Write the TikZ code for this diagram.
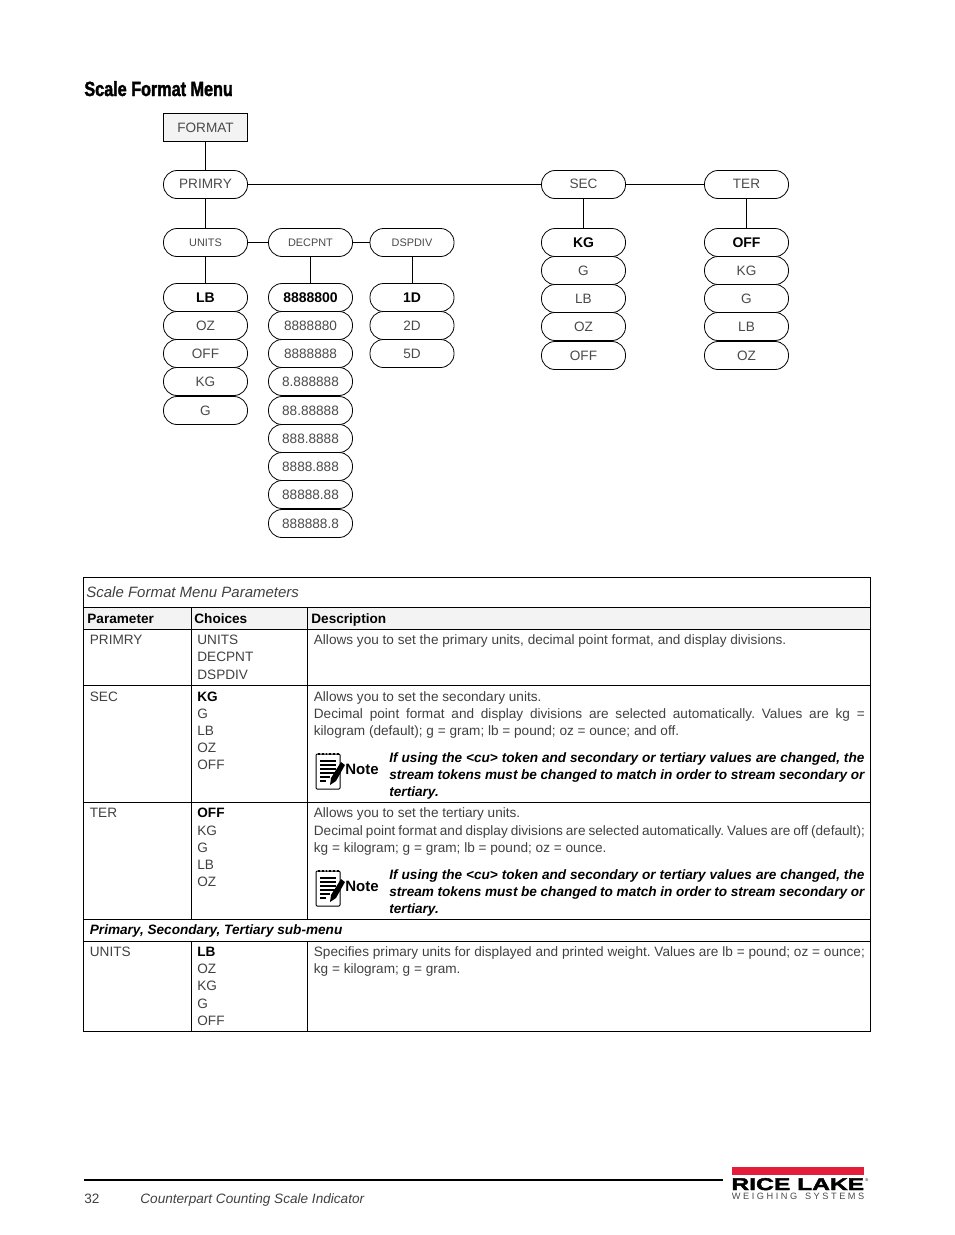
\documentclass[tikz,border=0pt]{standalone}
\usepackage{fontspec}
\setmainfont{Liberation Sans}
\newfontfamily\titlefont[FakeStretch=0.79,FakeBold=1.8]{Liberation Sans}
\newfontfamily\logofont[FakeStretch=1.45,FakeBold=2.5]{Liberation Sans}
\definecolor{lighttext}{HTML}{404040}
\definecolor{menutext}{HTML}{4A4A4A}
\definecolor{headgray}{HTML}{F3F3F3}
\definecolor{logored}{HTML}{E41E3A}
\newcommand{\bodysize}{\fontsize{13.6}{17}\selectfont\frenchspacing}
\tikzset{
  menubox/.style={draw,rounded corners=13.5pt,minimum width=84pt,minimum height=28pt,inner sep=0pt,fill=white,text=menutext,font=\fontsize{13.6}{16}\selectfont},
  smallbox/.style={menubox,font=\fontsize{10.9}{14}\selectfont},
  firstbox/.style={menubox,text=black,font=\fontsize{14}{16}\selectfont\bfseries},
  topbox/.style={menubox,rounded corners=0pt,fill=headgray},
  cell/.style={anchor=base west,inner sep=0pt,text=lighttext,font=\bodysize},
  headcell/.style={cell,text=black,font=\bodysize\bfseries},
  notecell/.style={anchor=north west,inner sep=0pt,text=black,font=\bodysize\bfseries\itshape,text width=475pt,align=justify},
  desccell/.style={cell,text width=551pt,align=justify},
  noteicon/.pic={
    \draw[line width=1pt,fill=white,rounded corners=1pt] (1,1) rectangle (25,36);
    \draw[line width=1.8pt,dotted] (3,1)--(24,1);
    \draw[line width=1.1pt] (5,8)--(21,8) (5,12)--(21,12) (5,16)--(21,16) (5,20)--(21,20) (5,24)--(15,24) (5,28)--(11,28);
    \fill (16,25)--(26,9)--(30,12)--(21,28)--(15,32)--cycle;
    \node[anchor=base west,inner sep=0pt,font=\fontsize{15}{16}\selectfont\bfseries,text=black] at (30,21) {Note};
  }
}
\begin{document}
\begin{tikzpicture}[x=1pt,y=-1pt,line width=0.8pt]
\useasboundingbox (0,0) rectangle (954,1235);
\node[inner sep=0pt,anchor=base west,font=\fontsize{20.5}{24}\titlefont\bfseries] (title) at (84,96) {Scale Format Menu};
% connectors are drawn after the nodes are set
\node[topbox] (format) at (205.5,127.5) {FORMAT};
\node[menubox] (primry) at (205.5,184.5) {\raisebox{1pt}{PRIMRY}};
\node[menubox] (sec) at (583.5,184.5) {\raisebox{1pt}{SEC}};
\node[menubox] (ter) at (746.5,184.5) {\raisebox{1pt}{TER}};
\node[smallbox] (units) at (205.5,242.5) {UNITS};
\node[smallbox] (decpnt) at (310.5,242.5) {DECPNT};
\node[smallbox] (dspdiv) at (412,242.5) {DSPDIV};
\draw (format)--(primry);
\draw (primry)--(units);
\draw (primry)--(sec);
\draw (sec)--(ter);
\draw (units)--(decpnt);
\draw (decpnt)--(dspdiv);
% units column
\node[firstbox] (ulb) at (205.5,297.5) {LB};
\node[menubox] (uoz) at (205.5,325.5) {OZ};
\node[menubox] (uoff) at (205.5,353.5) {OFF};
\node[menubox] (ukg) at (205.5,381.5) {KG};
\node[menubox] (ug) at (205.5,410.5) {G};
% decimal point column
\node[firstbox] (dpa) at (310.5,297.5) {8888800};
\node[menubox] (dpb) at (310.5,325.5) {8888880};
\node[menubox] (dpc) at (310.5,353.5) {8888888};
\node[menubox] (dpd) at (310.5,381.5) {8.888888};
\node[menubox] (dpe) at (310.5,410.5) {88.88888};
\node[menubox] (dpf) at (310.5,438.5) {888.8888};
\node[menubox] (dpg) at (310.5,466.5) {8888.888};
\node[menubox] (dph) at (310.5,494.5) {88888.88};
\node[menubox] (dpi) at (310.5,523.5) {888888.8};
% display divisions column
\node[firstbox] (dva) at (412,297.5) {1D};
\node[menubox] (dvb) at (412,325.5) {2D};
\node[menubox] (dvc) at (412,353.5) {5D};
% secondary column
\node[firstbox] (skg) at (583.5,242.5) {KG};
\node[menubox] (sg) at (583.5,270.5) {G};
\node[menubox] (slb) at (583.5,298.5) {LB};
\node[menubox] (soz) at (583.5,326.5) {OZ};
\node[menubox] (soff) at (583.5,355.5) {OFF};
% tertiary column
\node[firstbox] (toff) at (746.5,242.5) {OFF};
\node[menubox] (tkg) at (746.5,270.5) {KG};
\node[menubox] (tg) at (746.5,298.5) {G};
\node[menubox] (tlb) at (746.5,326.5) {LB};
\node[menubox] (toz) at (746.5,355.5) {OZ};
\draw (units)--(ulb);
\draw (decpnt)--(dpa);
\draw (dspdiv)--(dva);
\draw (sec)--(skg);
\draw (ter)--(toff);
% table
\fill[headgray] (84,607.5) rectangle (870,629.5);
\draw (83.5,577.5) rectangle (870.5,1031.5);
\draw (83.5,607.5)--(870.5,607.5);
\draw (83.5,629.5)--(870.5,629.5);
\draw (83.5,685.5)--(870.5,685.5);
\draw (83.5,802.5)--(870.5,802.5);
\draw (83.5,919.5)--(870.5,919.5);
\draw (83.5,941.5)--(870.5,941.5);
\draw (191.5,607.5)--(191.5,919.5);
\draw (307.5,607.5)--(307.5,919.5);
\draw (191.5,941.5)--(191.5,1031.5);
\draw (307.5,941.5)--(307.5,1031.5);
\node[cell,font=\fontsize{15}{17}\selectfont\itshape] (tabtitle) at (86,597) {Scale Format Menu Parameters};
\node[headcell] (hpar) at (87,623) {Parameter};
\node[headcell] (hcho) at (194,623) {Choices};
\node[headcell] (hdes) at (311,623) {Description};
% primry row
\node[cell] (pprm) at (89.5,644) {PRIMRY};
\node[cell] (pcha) at (197,644) {UNITS};
\node[cell] (pchb) at (197,661) {DECPNT};
\node[cell] (pchc) at (197,679) {DSPDIV};
\node[cell] (pdes) at (313.5,644) {Allows you to set the primary units, decimal point format, and display divisions.};
% sec row
\node[cell] (sprm) at (89.5,701) {SEC};
\node[headcell] (scha) at (197,701) {KG};
\node[cell] (schb) at (197,718) {G};
\node[cell] (schc) at (197,735) {LB};
\node[cell] (schd) at (197,752) {OZ};
\node[cell] (sche) at (197,769) {OFF};
\node[cell] (sdesa) at (313.5,701) {Allows you to set the secondary units.};
\node[desccell] (sdesb) at (313.5,718.5) {Decimal point format and display divisions are selected automatically. Values are kg =\linebreak kilogram (default); g = gram; lb = pound; oz = ounce; and off.};
\pic at (315,753) {noteicon};
\node[notecell] (snote) at (389,752) {If using the <cu> token and secondary or tertiary values are changed, the\linebreak stream tokens must be changed to match in order to stream secondary or\linebreak tertiary.};
% ter row
\node[cell] (tprm) at (89.5,817) {TER};
\node[headcell] (tcha) at (197,817) {OFF};
\node[cell] (tchb) at (197,835) {KG};
\node[cell] (tchc) at (197,852) {G};
\node[cell] (tchd) at (197,869) {LB};
\node[cell] (tche) at (197,886) {OZ};
\node[cell] (tdesa) at (313.5,817) {Allows you to set the tertiary units.};
\node[desccell] (tdesb) at (313.5,835) {Decimal point format and display divisions are selected automatically. Values are off (default);\linebreak kg = kilogram; g = gram; lb = pound; oz = ounce.};
\pic at (315,870) {noteicon};
\node[notecell] (tnote) at (389,869) {If using the <cu> token and secondary or tertiary values are changed, the\linebreak stream tokens must be changed to match in order to stream secondary or\linebreak tertiary.};
% sub-menu rows
\node[cell,text=black,font=\bodysize\bfseries\itshape] (subhead) at (89.5,934) {Primary, Secondary, Tertiary sub-menu};
\node[cell] (uprm) at (89.5,956) {UNITS};
\node[headcell] (ucha) at (197,956) {LB};
\node[cell] (uchb) at (197,973) {OZ};
\node[cell] (uchc) at (197,990) {KG};
\node[cell] (uchd) at (197,1008) {G};
\node[cell] (uche) at (197,1025) {OFF};
\node[desccell] (udes) at (313.5,956) {Specifies primary units for displayed and printed weight. Values are lb = pound; oz = ounce;\linebreak kg = kilogram; g = gram.};
% footer
\coordinate (rulea) at (84,1179.5);
\coordinate (ruleb) at (723,1179.5);
\draw[line width=2pt] (rulea)--(ruleb);
\node[cell] (pageno) at (84,1203) {32};
\node[cell,font=\bodysize\itshape] (doctitle) at (140,1203) {Counterpart Counting Scale Indicator};
\fill[logored] (732,1167) rectangle (864,1175);
\node[inner sep=0pt,anchor=base west,font=\fontsize{17}{18}\logofont\bfseries] (logoname) at (731,1190) {RICE LAKE};
\node[inner sep=0pt,anchor=base west,font=\fontsize{4}{5}\selectfont] (logomark) at (865,1181) {®};
\node[inner sep=0pt,anchor=base west,font=\fontsize{9.2}{10}\selectfont,text=menutext] (logosub) at (731.5,1199) {W E I G H I N G\ \ \ S Y S T E M S};
\end{tikzpicture}
\end{document}
